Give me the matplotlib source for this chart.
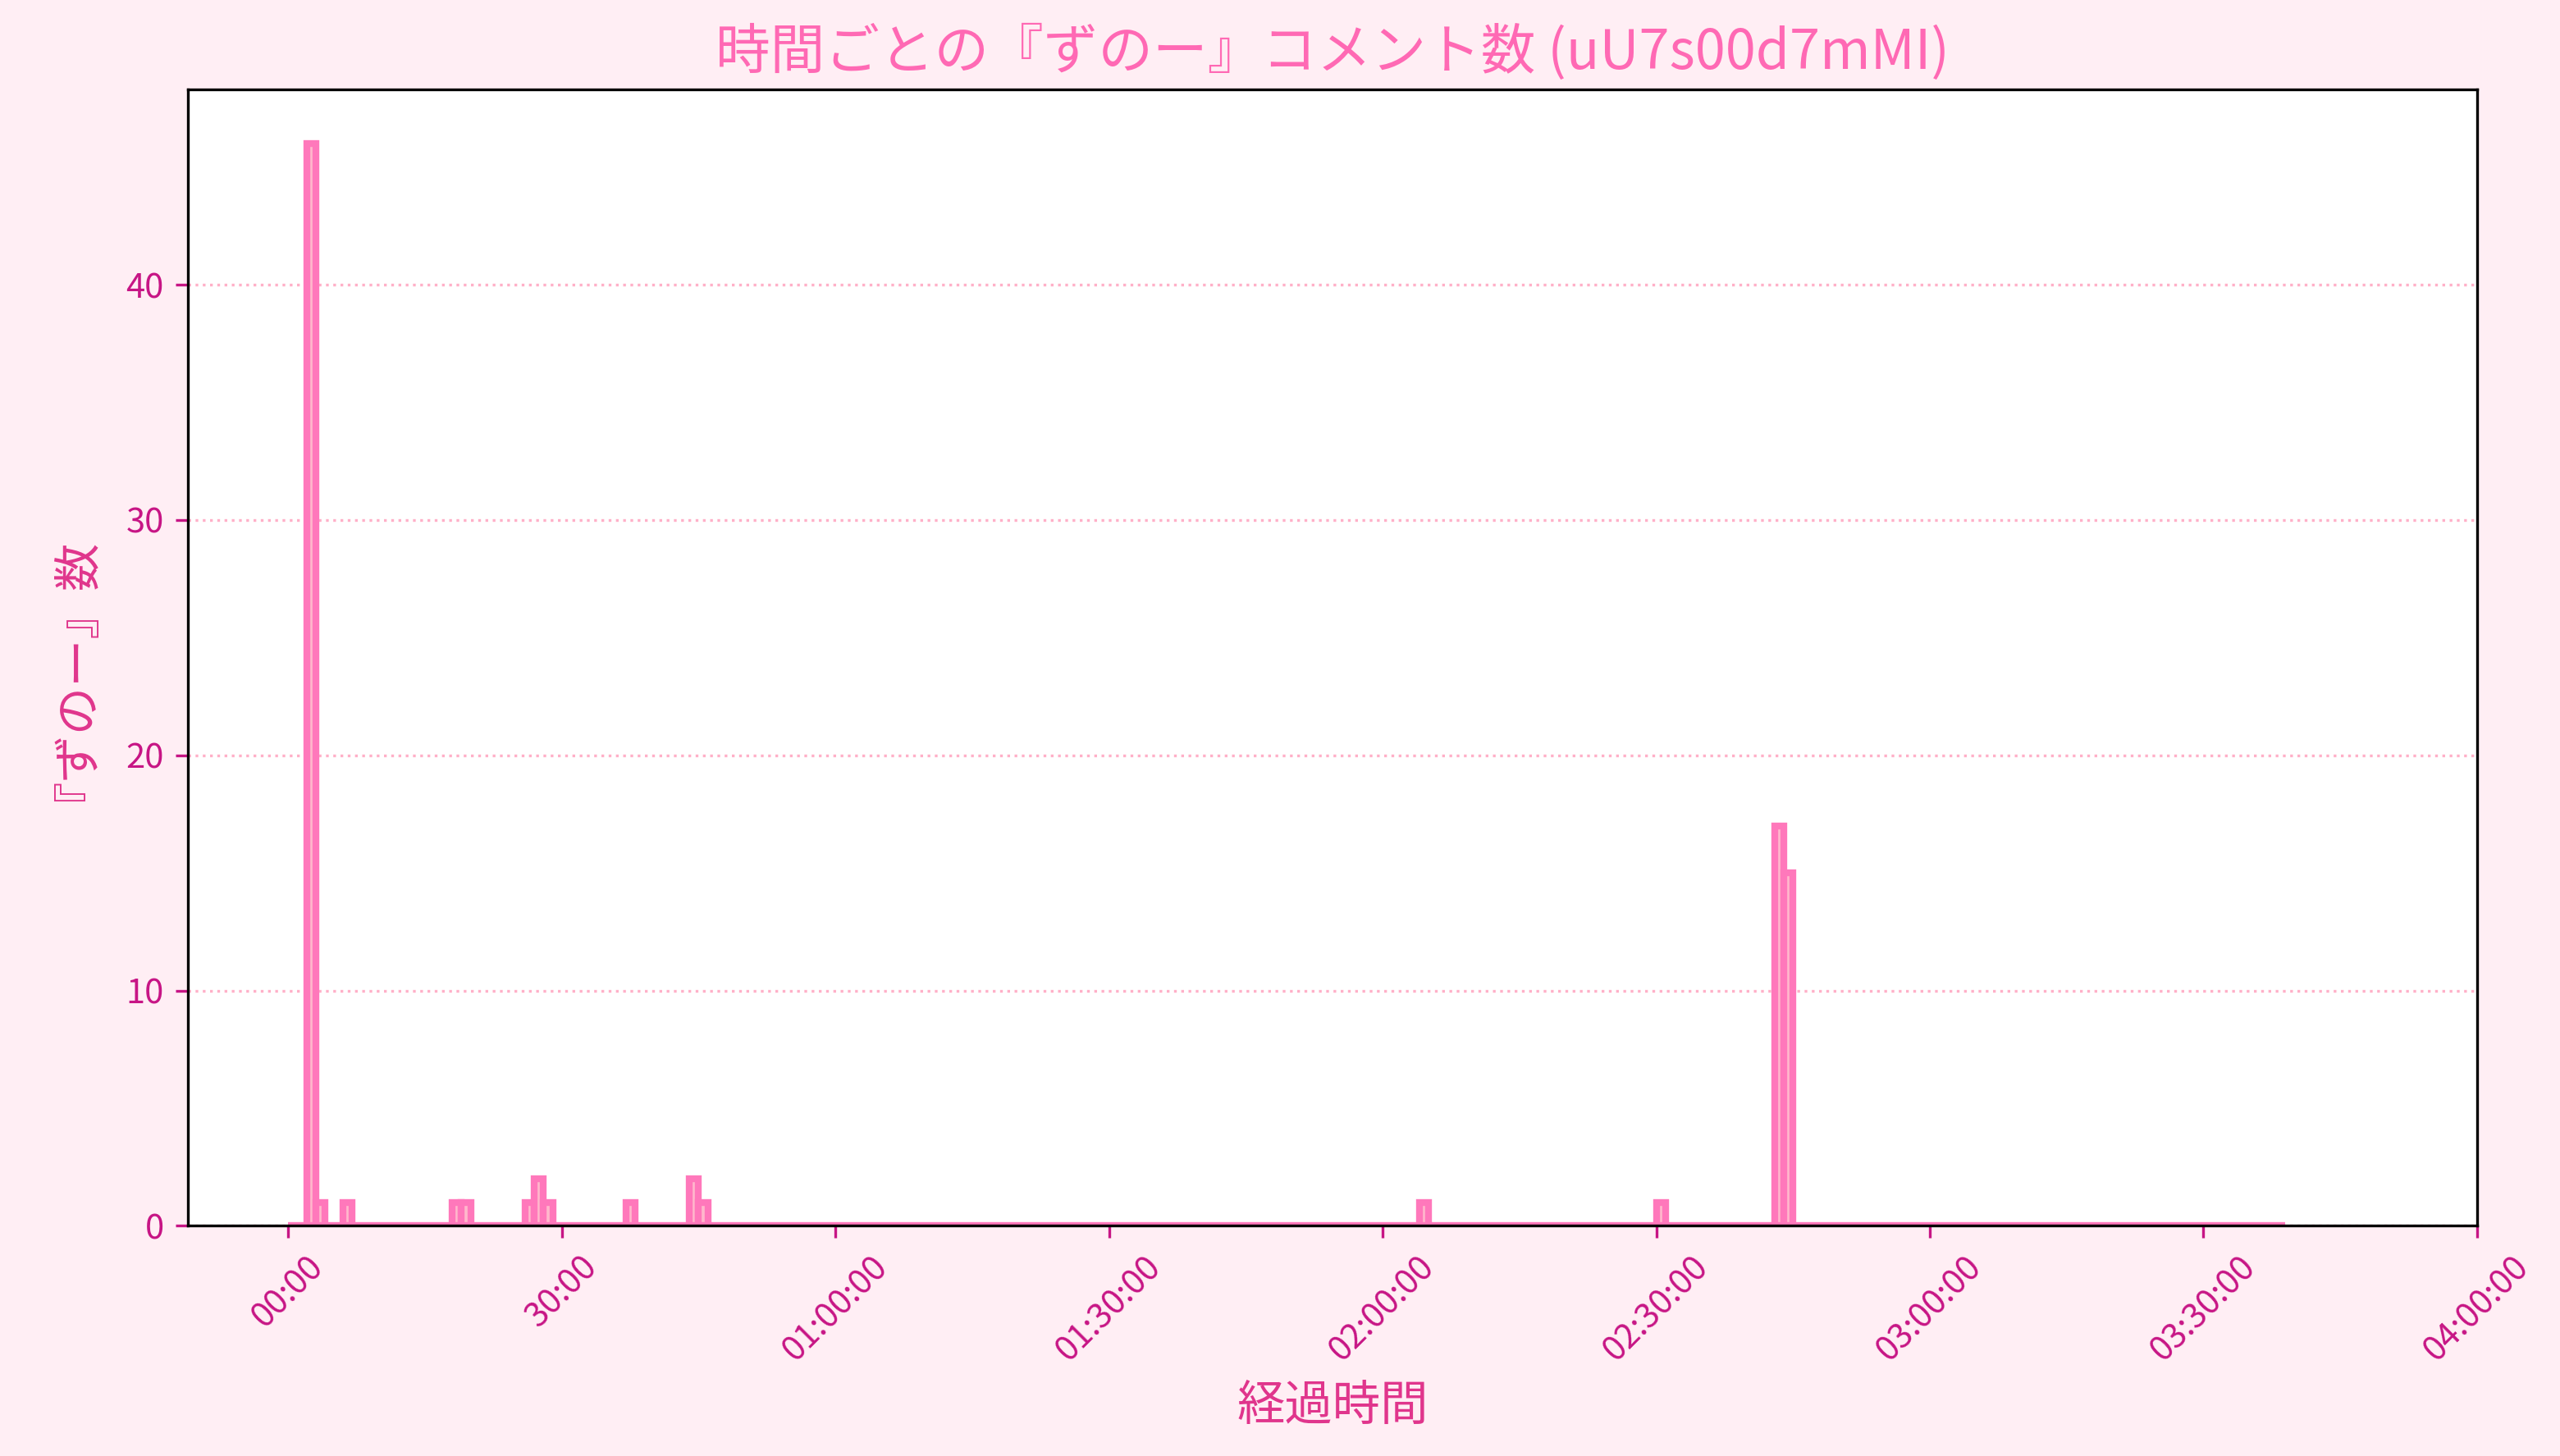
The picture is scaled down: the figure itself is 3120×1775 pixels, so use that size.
import numpy as np
import matplotlib
matplotlib.use("Agg")
import matplotlib.pyplot as plt

plt.rcParams['font.family'] = ['Noto Sans CJK JP', 'DejaVu Sans']

# Data: counts of 『ずのー』 comments per 1-minute bin (minutes with nonzero counts)
n_bins = 219
nonzero_minutes = [2, 3, 6, 18, 19, 26, 27, 28, 37, 44, 45, 124, 150, 163, 164]
nonzero_counts = [46, 1, 1, 1, 1, 1, 2, 1, 1, 2, 1, 1, 1, 17, 15]

tick_minutes = [0, 30, 60, 90, 120, 150, 180, 210, 240]
tick_labels = ["00:00", "30:00", "01:00:00", "01:30:00", "02:00:00",
               "02:30:00", "03:00:00", "03:30:00", "04:00:00"]
y_ticks = [0, 10, 20, 30, 40]

title = "時間ごとの『ずのー』コメント数 (uU7s00d7mMI)"
xlabel = "経過時間"
ylabel = "『ずのー』数"

counts = np.zeros(n_bins)
counts[nonzero_minutes] = nonzero_counts
bin_starts = np.arange(n_bins)

fig = plt.figure(figsize=(10.4, 1775 / 300), dpi=300, facecolor='#ffeef4')
ax = fig.add_axes([0.0734, 0.1581, 0.9676 - 0.0734, 0.9386 - 0.1581])
ax.set_facecolor('white')

ax.bar(bin_starts, counts, width=1.0, align='edge', color='#ffb8cc',
       edgecolor='#ff78bb', linewidth=2, zorder=2)

ax.set_xlim(-11, 240)
ax.set_ylim(0, 46 * 1.05)
ax.set_xticks(tick_minutes)
ax.set_xticklabels(tick_labels, rotation=45, ha='center')
ax.set_yticks(y_ticks)
ax.tick_params(axis='both', colors='#c71585', labelsize=10, labelcolor='#c71585')
ax.grid(axis='y', linestyle=':', color='#ffb0c8', linewidth=0.8, zorder=0)
ax.set_axisbelow(True)

for s in ax.spines.values():
    s.set_color('black')
    s.set_linewidth(0.8)

ax.set_title(title, fontsize=16, color='#ff69b4')
ax.set_xlabel(xlabel, fontsize=14, color='#e0358c')
ax.set_ylabel(ylabel, fontsize=14, color='#e0358c', labelpad=14)

fig.savefig('out.png', dpi=300, facecolor=fig.get_facecolor())
